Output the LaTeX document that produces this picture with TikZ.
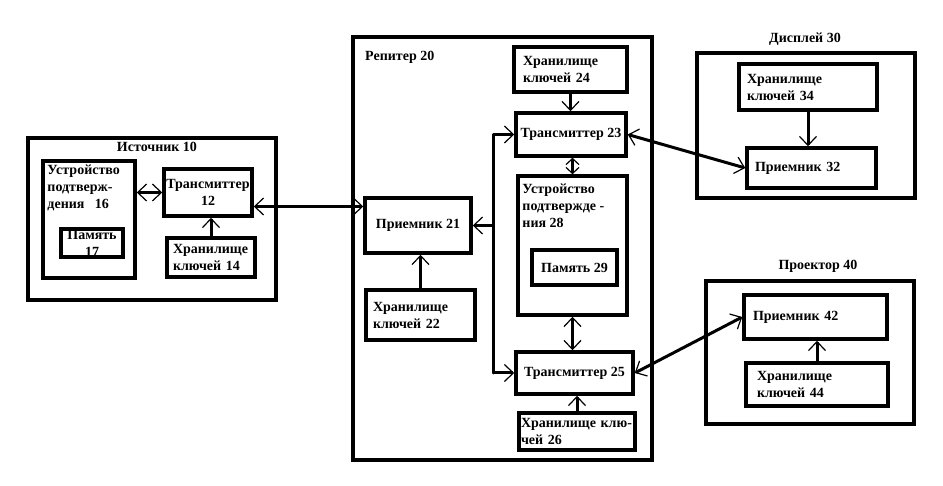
\documentclass[tikz,border=0pt]{standalone}
\usepackage{fontspec}
\setmainfont{Liberation Serif}
\usepackage{tikz}
\usetikzlibrary{positioning, arrows.meta, calc}

\begin{document}
\begin{tikzpicture}[
    x=1pt, y=-1pt,
    every node/.style={font=\bfseries\fontsize{14}{17}\selectfont},
    box/.style={rectangle, draw, line width=3.5pt, inner xsep=0pt, inner ysep=0pt, align=left},
    cbox/.style={box, align=center},
    outer/.style={rectangle, draw, line width=3.5pt},
    title/.style={inner sep=0pt},
    toptext/.style={anchor=north west, align=left, inner xsep=6pt, inner ysep=#1},
    wire/.style={line width=3pt, line cap=round},
    arrow/.style={->, line width=3pt, >={Straight Barb[length=9pt, width=17pt, line width=1.2pt]}},
    short/.style={>={Straight Barb[length=6pt, width=13pt, line width=1.2pt]}}
]
    \useasboundingbox (0,0) rectangle (943,486);

    % Source - left
    \node[outer, minimum width=248pt, minimum height=162pt] (src) at (152,219) {};
    \node[title] (srctitle) at (157,147) {Источник 10};
    \node[box, minimum width=92pt, minimum height=117pt,
          label={[toptext=5pt]north west:Устройство\\подтверж-\\дения~~~16}] (conf16) at (89,219.5) {};
    \node[cbox, minimum width=62pt, minimum height=28pt] (mem17) at (92,243) {Память\\17};
    \node[cbox, minimum width=88pt, minimum height=47pt] (tx12) at (208,192.5) {Трансмиттер\\12};
    \node[box, minimum width=88pt, minimum height=39pt, text width=76pt] (ks14) at (211,257.5) {Хранилище\\ключей~14};

    % Repeater - middle
    \node[outer, minimum width=299pt, minimum height=423pt] (rep20) at (502.5,248.5) {};
    \node[title, anchor=west] (reptitle) at (365,57) {Репитер 20};
    \node[cbox, minimum width=106pt, minimum height=55pt] (rx21) at (418,225.5) {Приемник 21};
    \node[box, minimum width=109pt, minimum height=50pt, text width=95pt] (ks22) at (420.5,315) {Хранилище\\ключей~22};
    \node[box, minimum width=113pt, minimum height=45pt, text width=95pt] (ks24) at (570.5,69.5) {Хранилище\\ключей~24};
    \node[cbox, minimum width=110pt, minimum height=43pt] (tx23) at (571,134.5) {Трансмиттер 23};
    \node[box, minimum width=109pt, minimum height=139pt,
          label={[toptext=9pt]north west:Устройство\\подтвержде~-\\ния~28}] (conf28) at (572.5,245.5) {};
    \node[cbox, minimum width=85pt, minimum height=35pt] (mem29) at (574.5,267.5) {Память 29};
    \node[cbox, minimum width=117pt, minimum height=42pt] (tx25) at (574.5,373) {Трансмиттер 25};
    \node[box, minimum width=116pt, minimum height=37pt, text width=112pt] (ks26) at (577,431.5) {\mbox{Хранилище~клю-}\\чей~26};

    % Display - top right
    \node[outer, minimum width=218pt, minimum height=145pt] (disp30) at (806,125.5) {};
    \node[title] (disptitle) at (805,39) {Дисплей 30};
    \node[box, minimum width=138pt, minimum height=46pt, text width=122pt] (ks34) at (808,87) {Хранилище\\ключей~34};
    \node[box, minimum width=129pt, minimum height=40pt, text width=113pt] (rx32) at (811.5,168) {Приемник~32};

    % Projector - bottom right
    \node[outer, minimum width=208pt, minimum height=143pt] (proj40) at (810,352.5) {};
    \node[title] (projtitle) at (818,266) {Проектор 40};
    \node[box, minimum width=143pt, minimum height=44pt, text width=125pt] (rx42) at (815.5,317) {Приемник~42};
    \node[box, minimum width=142pt, minimum height=43pt, text width=120pt] (ks44) at (817,384.5) {Хранилище\\ключей~44};

    % Source arrows
    \draw[arrow, <->] (conf16.east |- tx12.west) -- (tx12.west);
    \draw[arrow] (ks14.north) -- (ks14.north |- tx12.south);
    \draw[arrow, <->] ([yshift=-14pt]tx12.east) -- ([yshift=-14pt]tx12.east -| rx21.west);

    % Repeater arrows
    \coordinate (bus) at (493,0);
    \draw[wire] (bus |- tx23.west) -- (bus |- tx25.west);
    \draw[arrow] (bus |- tx23.west) -- (tx23.west);
    \draw[arrow] (bus |- rx21.east) -- (rx21.east);
    \draw[arrow] (bus |- tx25.west) -- (tx25.west);
    \draw[arrow] (ks22.north) -- (ks22.north |- rx21.south);
    \draw[arrow] (ks24.south) -- (ks24.south |- tx23.north);
    \draw[arrow, short, <->] (conf28.north) -- (conf28.north |- tx23.south);
    \draw[arrow, <->] (conf28.south) -- (conf28.south |- tx25.north);
    \draw[arrow] (ks26.north) -- (ks26.north |- tx25.south);

    % Display and projector links
    \draw[arrow] (ks34.south) -- (ks34.south |- rx32.north);
    \draw[arrow, <->] (tx23.east) -- (rx32.west);
    \draw[arrow] (ks44.north) -- (ks44.north |- rx42.south);
    \draw[arrow, <->] (tx25.east) -- (rx42.west);

\end{tikzpicture}
\end{document}
